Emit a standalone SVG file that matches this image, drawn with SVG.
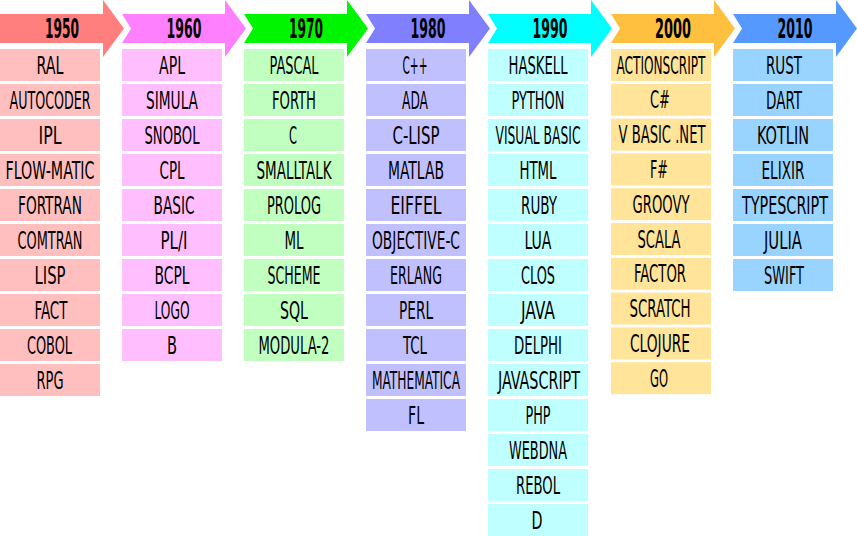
<svg xmlns="http://www.w3.org/2000/svg" width="857" height="536" viewBox="0 0 857 536">
  <style>
    .hd { font-family: "DejaVu Sans Condensed", "Liberation Sans Narrow", sans-serif; font-weight: bold; font-size: 27px; fill: #000; text-anchor: middle; }
    .it { font-family: "Liberation Sans Narrow", "DejaVu Sans Condensed", sans-serif; font-size: 24px; fill: #000; text-anchor: middle; }
    .a50 { fill: #FF7F7F; } .b50 { fill: #FFBFBF; }
    .a60 { fill: #FF80FF; } .b60 { fill: #FFBFFF; }
    .a70 { fill: #00F500; } .b70 { fill: #C0FFC0; }
    .a80 { fill: #8080FF; } .b80 { fill: #C0C0FF; }
    .a90 { fill: #00FFFF; } .b90 { fill: #C0FFFF; }
    .a00 { fill: #FFC040; } .b00 { fill: #FFE499; }
    .a10 { fill: #5599FF; } .b10 { fill: #99D3FF; }
  </style>

  <!-- decade header arrows -->
  <g id="headers">
    <g id="h1950"><path class="a50" d="M0,14 H103 V0 L124,28.5 L103,57 V43 H0 Z"/><text class="hd" x="62" y="38" textLength="34" lengthAdjust="spacingAndGlyphs">1950</text></g>
    <g id="h1960"><path class="a60" d="M122,14 H225 V0 L246,28.5 L225,57 V43 H122 L131,28.5 Z"/><text class="hd" x="184" y="38" textLength="35" lengthAdjust="spacingAndGlyphs">1960</text></g>
    <g id="h1970"><path class="a70" d="M244,14 H347 V0 L368,28.5 L347,57 V43 H244 L253,28.5 Z"/><text class="hd" x="306" y="38" textLength="34" lengthAdjust="spacingAndGlyphs">1970</text></g>
    <g id="h1980"><path class="a80" d="M366,14 H469 V0 L490,28.5 L469,57 V43 H366 L375,28.5 Z"/><text class="hd" x="428" y="38" textLength="35" lengthAdjust="spacingAndGlyphs">1980</text></g>
    <g id="h1990"><path class="a90" d="M488,14 H591 V0 L612,28.5 L591,57 V43 H488 L497,28.5 Z"/><text class="hd" x="550" y="38" textLength="35" lengthAdjust="spacingAndGlyphs">1990</text></g>
    <g id="h2000"><path class="a00" d="M611,14 H714 V0 L735,28.5 L714,57 V43 H611 L620,28.5 Z"/><text class="hd" x="673" y="38" textLength="36" lengthAdjust="spacingAndGlyphs">2000</text></g>
    <g id="h2010"><path class="a10" d="M733,14 H836 V0 L857,28.5 L836,57 V43 H733 L742,28.5 Z"/><text class="hd" x="795" y="38" textLength="35" lengthAdjust="spacingAndGlyphs">2010</text></g>
  </g>

  <!-- 1950s -->
  <g id="col1950">
    <g id="ral"><rect class="b50" x="0" y="49" width="100" height="32"/><text class="it" x="50" y="73.5" textLength="27" lengthAdjust="spacingAndGlyphs">RAL</text></g>
    <g id="autocoder"><rect class="b50" x="0" y="84" width="100" height="32"/><text class="it" x="50" y="108.5" textLength="81" lengthAdjust="spacingAndGlyphs">AUTOCODER</text></g>
    <g id="ipl"><rect class="b50" x="0" y="119" width="100" height="32"/><text class="it" x="50" y="143.5" textLength="23" lengthAdjust="spacingAndGlyphs">IPL</text></g>
    <g id="flow-matic"><rect class="b50" x="0" y="154" width="100" height="32"/><text class="it" x="50" y="178.5" textLength="89" lengthAdjust="spacingAndGlyphs">FLOW-MATIC</text></g>
    <g id="fortran"><rect class="b50" x="0" y="189" width="100" height="32"/><text class="it" x="50" y="213.5" textLength="64" lengthAdjust="spacingAndGlyphs">FORTRAN</text></g>
    <g id="comtran"><rect class="b50" x="0" y="224" width="100" height="32"/><text class="it" x="50" y="248.5" textLength="65" lengthAdjust="spacingAndGlyphs">COMTRAN</text></g>
    <g id="lisp"><rect class="b50" x="0" y="259" width="100" height="32"/><text class="it" x="50" y="283.5" textLength="31" lengthAdjust="spacingAndGlyphs">LISP</text></g>
    <g id="fact"><rect class="b50" x="0" y="294" width="100" height="32"/><text class="it" x="51" y="318.5" textLength="33" lengthAdjust="spacingAndGlyphs">FACT</text></g>
    <g id="cobol"><rect class="b50" x="0" y="329" width="100" height="32"/><text class="it" x="49.5" y="353.5" textLength="45" lengthAdjust="spacingAndGlyphs">COBOL</text></g>
    <g id="rpg"><rect class="b50" x="0" y="364" width="100" height="32"/><text class="it" x="50" y="388.5" textLength="27" lengthAdjust="spacingAndGlyphs">RPG</text></g>
  </g>

  <!-- 1960s -->
  <g id="col1960">
    <g id="apl"><rect class="b60" x="122" y="49" width="100" height="32"/><text class="it" x="172" y="73.5" textLength="26" lengthAdjust="spacingAndGlyphs">APL</text></g>
    <g id="simula"><rect class="b60" x="122" y="84" width="100" height="32"/><text class="it" x="172" y="108.5" textLength="52" lengthAdjust="spacingAndGlyphs">SIMULA</text></g>
    <g id="snobol"><rect class="b60" x="122" y="119" width="100" height="32"/><text class="it" x="172" y="143.5" textLength="55" lengthAdjust="spacingAndGlyphs">SNOBOL</text></g>
    <g id="cpl"><rect class="b60" x="122" y="154" width="100" height="32"/><text class="it" x="172" y="178.5" textLength="25" lengthAdjust="spacingAndGlyphs">CPL</text></g>
    <g id="basic"><rect class="b60" x="122" y="189" width="100" height="32"/><text class="it" x="174" y="213.5" textLength="41" lengthAdjust="spacingAndGlyphs">BASIC</text></g>
    <g id="pl1"><rect class="b60" x="122" y="224" width="100" height="32"/><text class="it" x="174" y="248.5" textLength="27" lengthAdjust="spacingAndGlyphs">PL/I</text></g>
    <g id="bcpl"><rect class="b60" x="122" y="259" width="100" height="32"/><text class="it" x="172" y="283.5" textLength="35" lengthAdjust="spacingAndGlyphs">BCPL</text></g>
    <g id="logo"><rect class="b60" x="122" y="294" width="100" height="32"/><text class="it" x="172" y="318.5" textLength="35" lengthAdjust="spacingAndGlyphs">LOGO</text></g>
    <g id="b"><rect class="b60" x="122" y="329" width="100" height="32"/><text class="it" x="172" y="353.5" textLength="10" lengthAdjust="spacingAndGlyphs">B</text></g>
  </g>

  <!-- 1970s -->
  <g id="col1970">
    <g id="pascal"><rect class="b70" x="244" y="49" width="100" height="32"/><text class="it" x="294" y="73.5" textLength="49" lengthAdjust="spacingAndGlyphs">PASCAL</text></g>
    <g id="forth"><rect class="b70" x="244" y="84" width="100" height="32"/><text class="it" x="294" y="108.5" textLength="44" lengthAdjust="spacingAndGlyphs">FORTH</text></g>
    <g id="c"><rect class="b70" x="244" y="119" width="100" height="32"/><text class="it" x="293" y="143.5" textLength="8" lengthAdjust="spacingAndGlyphs">C</text></g>
    <g id="smalltalk"><rect class="b70" x="244" y="154" width="100" height="32"/><text class="it" x="294" y="178.5" textLength="75" lengthAdjust="spacingAndGlyphs">SMALLTALK</text></g>
    <g id="prolog"><rect class="b70" x="244" y="189" width="100" height="32"/><text class="it" x="294" y="213.5" textLength="54" lengthAdjust="spacingAndGlyphs">PROLOG</text></g>
    <g id="ml"><rect class="b70" x="244" y="224" width="100" height="32"/><text class="it" x="294" y="248.5" textLength="19" lengthAdjust="spacingAndGlyphs">ML</text></g>
    <g id="scheme"><rect class="b70" x="244" y="259" width="100" height="32"/><text class="it" x="294" y="283.5" textLength="53" lengthAdjust="spacingAndGlyphs">SCHEME</text></g>
    <g id="sql"><rect class="b70" x="244" y="294" width="100" height="32"/><text class="it" x="294" y="318.5" textLength="28" lengthAdjust="spacingAndGlyphs">SQL</text></g>
    <g id="modula-2"><rect class="b70" x="244" y="329" width="100" height="32"/><text class="it" x="294" y="353.5" textLength="71" lengthAdjust="spacingAndGlyphs">MODULA-2</text></g>
  </g>

  <!-- 1980s -->
  <g id="col1980">
    <g id="cpp"><rect class="b80" x="366" y="49" width="100" height="32"/><text class="it" x="415" y="73.5" textLength="25" lengthAdjust="spacingAndGlyphs">C++</text></g>
    <g id="ada"><rect class="b80" x="366" y="84" width="100" height="32"/><text class="it" x="415" y="108.5" textLength="26" lengthAdjust="spacingAndGlyphs">ADA</text></g>
    <g id="c-lisp"><rect class="b80" x="366" y="119" width="100" height="32"/><text class="it" x="416" y="143.5" textLength="47" lengthAdjust="spacingAndGlyphs">C-LISP</text></g>
    <g id="matlab"><rect class="b80" x="366" y="154" width="100" height="32"/><text class="it" x="416" y="178.5" textLength="56" lengthAdjust="spacingAndGlyphs">MATLAB</text></g>
    <g id="eiffel"><rect class="b80" x="366" y="189" width="100" height="32"/><text class="it" x="416" y="213.5" textLength="51" lengthAdjust="spacingAndGlyphs">EIFFEL</text></g>
    <g id="objective-c"><rect class="b80" x="366" y="224" width="100" height="32"/><text class="it" x="416" y="248.5" textLength="88" lengthAdjust="spacingAndGlyphs">OBJECTIVE-C</text></g>
    <g id="erlang"><rect class="b80" x="366" y="259" width="100" height="32"/><text class="it" x="416" y="283.5" textLength="52" lengthAdjust="spacingAndGlyphs">ERLANG</text></g>
    <g id="perl"><rect class="b80" x="366" y="294" width="100" height="32"/><text class="it" x="416" y="318.5" textLength="34" lengthAdjust="spacingAndGlyphs">PERL</text></g>
    <g id="tcl"><rect class="b80" x="366" y="329" width="100" height="32"/><text class="it" x="415" y="353.5" textLength="24" lengthAdjust="spacingAndGlyphs">TCL</text></g>
    <g id="mathematica"><rect class="b80" x="366" y="364" width="100" height="32"/><text class="it" x="416" y="388.5" textLength="88" lengthAdjust="spacingAndGlyphs">MATHEMATICA</text></g>
    <g id="fl"><rect class="b80" x="366" y="399" width="100" height="32"/><text class="it" x="416" y="423.5" textLength="16" lengthAdjust="spacingAndGlyphs">FL</text></g>
  </g>

  <!-- 1990s -->
  <g id="col1990">
    <g id="haskell"><rect class="b90" x="488" y="49" width="100" height="32"/><text class="it" x="538" y="73.5" textLength="59" lengthAdjust="spacingAndGlyphs">HASKELL</text></g>
    <g id="python"><rect class="b90" x="488" y="84" width="100" height="32"/><text class="it" x="538" y="108.5" textLength="53" lengthAdjust="spacingAndGlyphs">PYTHON</text></g>
    <g id="visual-basic"><rect class="b90" x="488" y="119" width="100" height="32"/><text class="it" x="538" y="143.5" textLength="85" lengthAdjust="spacingAndGlyphs">VISUAL BASIC</text></g>
    <g id="html"><rect class="b90" x="488" y="154" width="100" height="32"/><text class="it" x="538" y="178.5" textLength="37" lengthAdjust="spacingAndGlyphs">HTML</text></g>
    <g id="ruby"><rect class="b90" x="488" y="189" width="100" height="32"/><text class="it" x="539" y="213.5" textLength="36" lengthAdjust="spacingAndGlyphs">RUBY</text></g>
    <g id="lua"><rect class="b90" x="488" y="224" width="100" height="32"/><text class="it" x="538" y="248.5" textLength="27" lengthAdjust="spacingAndGlyphs">LUA</text></g>
    <g id="clos"><rect class="b90" x="488" y="259" width="100" height="32"/><text class="it" x="538" y="283.5" textLength="34" lengthAdjust="spacingAndGlyphs">CLOS</text></g>
    <g id="java"><rect class="b90" x="488" y="294" width="100" height="32"/><text class="it" x="538" y="318.5" textLength="34" lengthAdjust="spacingAndGlyphs">JAVA</text></g>
    <g id="delphi"><rect class="b90" x="488" y="329" width="100" height="32"/><text class="it" x="538" y="353.5" textLength="48" lengthAdjust="spacingAndGlyphs">DELPHI</text></g>
    <g id="javascript"><rect class="b90" x="488" y="364" width="100" height="32"/><text class="it" x="539" y="388.5" textLength="82" lengthAdjust="spacingAndGlyphs">JAVASCRIPT</text></g>
    <g id="php"><rect class="b90" x="488" y="399" width="100" height="32"/><text class="it" x="538" y="423.5" textLength="25" lengthAdjust="spacingAndGlyphs">PHP</text></g>
    <g id="webdna"><rect class="b90" x="488" y="434" width="100" height="32"/><text class="it" x="538" y="458.5" textLength="58" lengthAdjust="spacingAndGlyphs">WEBDNA</text></g>
    <g id="rebol"><rect class="b90" x="488" y="469" width="100" height="32"/><text class="it" x="538" y="493.5" textLength="44" lengthAdjust="spacingAndGlyphs">REBOL</text></g>
    <g id="d"><rect class="b90" x="488" y="504" width="100" height="32"/><text class="it" x="537" y="528.5" textLength="11" lengthAdjust="spacingAndGlyphs">D</text></g>
  </g>

  <!-- 2000s -->
  <g id="col2000">
    <g id="actionscript"><rect class="b00" x="611" y="49" width="100" height="32"/><text class="it" x="661" y="73.5" textLength="89" lengthAdjust="spacingAndGlyphs">ACTIONSCRIPT</text></g>
    <g id="csharp"><rect class="b00" x="611" y="83.8" width="100" height="32"/><text class="it" x="660" y="108.3" textLength="20" lengthAdjust="spacingAndGlyphs">C#</text></g>
    <g id="vbasic-net"><rect class="b00" x="611" y="118.6" width="100" height="32"/><text class="it" x="662" y="143.1" textLength="87" lengthAdjust="spacingAndGlyphs">V BASIC .NET</text></g>
    <g id="fsharp"><rect class="b00" x="611" y="153.4" width="100" height="32"/><text class="it" x="659" y="177.9" textLength="18" lengthAdjust="spacingAndGlyphs">F#</text></g>
    <g id="groovy"><rect class="b00" x="611" y="188.2" width="100" height="32"/><text class="it" x="661" y="212.7" textLength="57" lengthAdjust="spacingAndGlyphs">GROOVY</text></g>
    <g id="scala"><rect class="b00" x="611" y="223" width="100" height="32"/><text class="it" x="659" y="247.5" textLength="43" lengthAdjust="spacingAndGlyphs">SCALA</text></g>
    <g id="factor"><rect class="b00" x="611" y="257.8" width="100" height="32"/><text class="it" x="660" y="282.3" textLength="52" lengthAdjust="spacingAndGlyphs">FACTOR</text></g>
    <g id="scratch"><rect class="b00" x="611" y="292.6" width="100" height="32"/><text class="it" x="660" y="317.1" textLength="61" lengthAdjust="spacingAndGlyphs">SCRATCH</text></g>
    <g id="clojure"><rect class="b00" x="611" y="327.4" width="100" height="32"/><text class="it" x="660" y="351.9" textLength="60" lengthAdjust="spacingAndGlyphs">CLOJURE</text></g>
    <g id="go"><rect class="b00" x="611" y="362.2" width="100" height="32"/><text class="it" x="659" y="386.7" textLength="18" lengthAdjust="spacingAndGlyphs">GO</text></g>
  </g>

  <!-- 2010s -->
  <g id="col2010">
    <g id="rust"><rect class="b10" x="733" y="49" width="100" height="32"/><text class="it" x="784" y="73.5" textLength="36" lengthAdjust="spacingAndGlyphs">RUST</text></g>
    <g id="dart"><rect class="b10" x="733" y="84" width="100" height="32"/><text class="it" x="784" y="108.5" textLength="36" lengthAdjust="spacingAndGlyphs">DART</text></g>
    <g id="kotlin"><rect class="b10" x="733" y="119" width="100" height="32"/><text class="it" x="783" y="143.5" textLength="52" lengthAdjust="spacingAndGlyphs">KOTLIN</text></g>
    <g id="elixir"><rect class="b10" x="733" y="154" width="100" height="32"/><text class="it" x="783" y="178.5" textLength="43" lengthAdjust="spacingAndGlyphs">ELIXIR</text></g>
    <g id="typescript"><rect class="b10" x="733" y="189" width="100" height="32"/><text class="it" x="785" y="213.5" textLength="86" lengthAdjust="spacingAndGlyphs">TYPESCRIPT</text></g>
    <g id="julia"><rect class="b10" x="733" y="224" width="100" height="32"/><text class="it" x="783" y="248.5" textLength="38" lengthAdjust="spacingAndGlyphs">JULIA</text></g>
    <g id="swift"><rect class="b10" x="733" y="259" width="100" height="32"/><text class="it" x="784" y="283.5" textLength="40" lengthAdjust="spacingAndGlyphs">SWIFT</text></g>
  </g>
</svg>
